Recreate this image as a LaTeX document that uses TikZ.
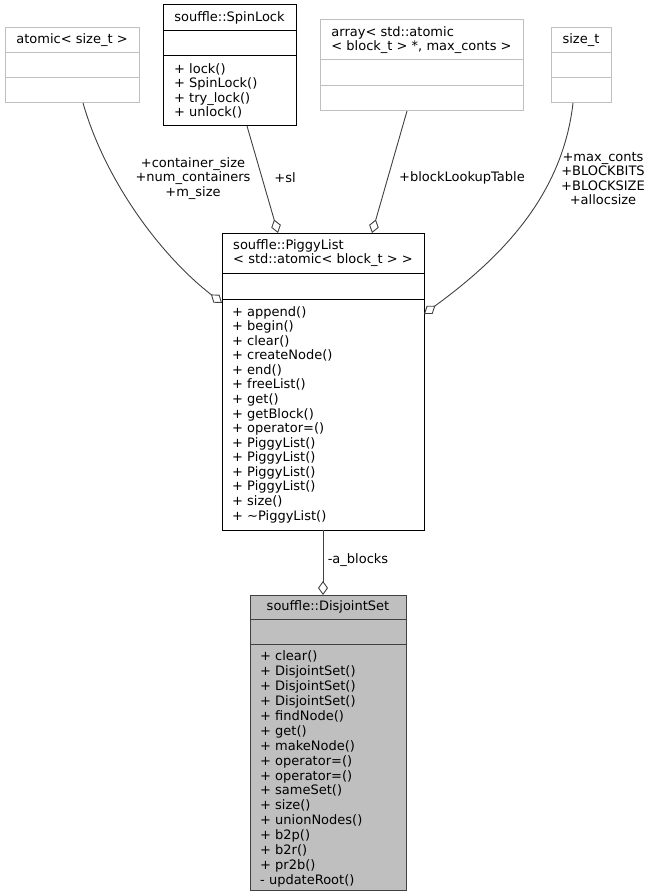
\documentclass[tikz,border=0pt]{standalone}
\usepackage{fontspec}
\setmainfont{DejaVu Sans}
\usetikzlibrary{arrows.meta,calc}
\definecolor{extgray}{HTML}{BFBFBF}
\definecolor{edgegray}{HTML}{404040}
\definecolor{curborder}{HTML}{404040}
\begin{document}
\begin{tikzpicture}[x=1pt,y=-1pt,
  box/.style={draw, line width=1pt, inner sep=0pt, outer sep=0pt, anchor=north west},
  ext/.style={box, draw=extgray},
  own/.style={box, draw=black},
  cur/.style={box, draw=curborder, fill=extgray},
  sepext/.style={draw=extgray, line width=1pt},
  sepown/.style={draw=black, line width=1pt},
  sepcur/.style={draw=curborder, line width=1pt},
  txt/.style={inner sep=0pt, font=\fontsize{13}{14.6}\selectfont},
  meth/.style={txt, align=left, anchor=west},
  lbl/.style={inner sep=0pt, align=center, font=\fontsize{13}{14.4}\selectfont},
  edge/.style={draw=edgegray, line width=0.9pt, -{Diamond[open,length=14pt,width=10pt,line width=0.9pt]}}]
\useasboundingbox (0,0) rectangle (651,896);

% atomic< size_t >
\node[ext, minimum width=134pt, minimum height=75pt] (atomic) at (5,28) {};
\draw[sepext] ($(atomic.north west)+(0,25)$) -- ($(atomic.north east)+(0,25)$);
\draw[sepext] ($(atomic.north west)+(0,50)$) -- ($(atomic.north east)+(0,50)$);
\node[txt] (atomicT) at ($(atomic.north)+(0,12.5)$) {atomic< size\_t >};

% souffle::SpinLock
\node[own, minimum width=133pt, minimum height=121pt] (spin) at (163,5) {};
\draw[sepown] ($(spin.north west)+(0,26)$) -- ($(spin.north east)+(0,26)$);
\draw[sepown] ($(spin.north west)+(0,51)$) -- ($(spin.north east)+(0,51)$);
\node[txt] (spinT) at ($(spin.north)+(0,13)$) {souffle::SpinLock};
\node[meth] (spinM) at ($(spin.north west)+(11,86)$) {+ lock()\\+ SpinLock()\\+ try\_lock()\\+ unlock()};

% array< ... >
\node[ext, minimum width=203pt, minimum height=91pt] (array) at (320,20) {};
\draw[sepext] ($(array.north west)+(0,40)$) -- ($(array.north east)+(0,40)$);
\draw[sepext] ($(array.north west)+(0,66)$) -- ($(array.north east)+(0,66)$);
\node[txt, align=left] (arrayT) at ($(array.north)+(0,20)$) {array< std::atomic\\< block\_t > *, max\_conts >};

% size_t
\node[ext, minimum width=60pt, minimum height=75pt] (sizet) at (551,28) {};
\draw[sepext] ($(sizet.north west)+(0,25)$) -- ($(sizet.north east)+(0,25)$);
\draw[sepext] ($(sizet.north west)+(0,50)$) -- ($(sizet.north east)+(0,50)$);
\node[txt] (sizetT) at ($(sizet.north)+(0,12.5)$) {size\_t};

% souffle::PiggyList
\node[own, minimum width=202pt, minimum height=297pt] (piggy) at (222,233) {};
\draw[sepown] ($(piggy.north west)+(0,40)$) -- ($(piggy.north east)+(0,40)$);
\draw[sepown] ($(piggy.north west)+(0,66)$) -- ($(piggy.north east)+(0,66)$);
\node[txt, align=left] (piggyT) at ($(piggy.north)+(0,20)$) {souffle::PiggyList\\< std::atomic< block\_t > >};
\node[meth, font=\fontsize{13}{14.57}\selectfont] (piggyM) at ($(piggy.north west)+(10,181.5)$) {+ append()\\+ begin()\\+ clear()\\+ createNode()\\+ end()\\+ freeList()\\+ get()\\+ getBlock()\\+ operator=()\\+ PiggyList()\\+ PiggyList()\\+ PiggyList()\\+ PiggyList()\\+ size()\\+ \textasciitilde PiggyList()};

% souffle::DisjointSet
\node[cur, minimum width=156pt, minimum height=295pt] (dis) at (250,595) {};
\draw[sepcur] ($(dis.north west)+(0,24)$) -- ($(dis.north east)+(0,24)$);
\draw[sepcur] ($(dis.north west)+(0,49)$) -- ($(dis.north east)+(0,49)$);
\node[txt] (disT) at ($(dis.north)+(0,12)$) {souffle::DisjointSet};
\node[meth, font=\fontsize{13}{14.93}\selectfont] (disM) at ($(dis.north west)+(10,174)$) {+ clear()\\+ DisjointSet()\\+ DisjointSet()\\+ DisjointSet()\\+ findNode()\\+ get()\\+ makeNode()\\+ operator=()\\+ operator=()\\+ sameSet()\\+ size()\\+ unionNodes()\\+ b2p()\\+ b2r()\\+ pr2b()\\- updateRoot()};

% connectors
\draw[edge] ($(atomic.south west)+(78,0)$) .. controls (105,180) and (160,255) .. ($(piggy.north west)+(0,70)$);
\draw[edge] ($(spin.south west)+(84,0)$) -- ($(piggy.north west)+(56,0)$);
\draw[edge] ($(array.south west)+(87,0)$) -- ($(piggy.north west)+(150,0)$);
\draw[edge] ($(sizet.south west)+(22,0)$) .. controls (562,200) and (495,262) .. ($(piggy.north east)+(0,81)$);
\draw[edge] (piggy.south) -- (piggy.south |- dis.north);

% labels
\node[lbl] (lA) at (193,178.5) {+container\_size\\+num\_containers\\+m\_size};
\node[lbl] (lB) at (285,178) {+sl};
\node[lbl] (lC) at (462,178) {+blockLookupTable};
\node[lbl] (lD) at (603,178.5) {+max\_conts\\+BLOCKBITS\\+BLOCKSIZE\\+allocsize};
\node[lbl] (lE) at (358,560) {-a\_blocks};
\end{tikzpicture}
\end{document}
